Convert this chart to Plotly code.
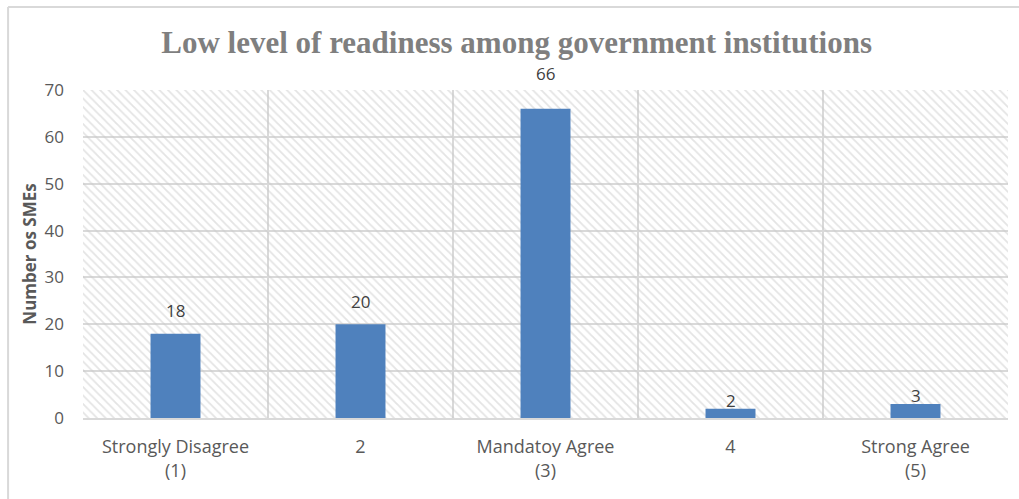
import plotly.graph_objects as go

# Survey responses
categories = ["Strongly Disagree<br>(1)", "2", "Mandatoy Agree<br>(3)", "4", "Strong Agree<br>(5)"]
counts = [18, 20, 66, 2, 3]
y_ticks = [0, 10, 20, 30, 40, 50, 60, 70]

# vertical offset (px) of each value label's centre above its bar top
label_offsets = [23, 23, 35, 8, 8]

TEXT = "#595959"
GRID = "#d9d9d9"
BAR = "#4f81bd"

fig = go.Figure()

# Hatched plot-area background on a hidden unit subplot
fig.add_trace(go.Scatter(
    x=[0, 1, 1, 0, 0], y=[0, 0, 1, 1, 0],
    xaxis="x", yaxis="y",
    mode="none", fill="toself",
    fillcolor="rgba(0,0,0,0)",
    fillpattern=dict(shape="\\", fgcolor="#c9c9c9", bgcolor="rgba(0,0,0,0)",
                     size=6, solidity=0.3),
    hoverinfo="skip", showlegend=False,
))

fig.add_trace(go.Bar(
    x=categories, y=counts,
    xaxis="x2", yaxis="y2",
    marker=dict(color=BAR, line=dict(width=0)),
    width=0.27, showlegend=False,
))

for i, (v, off) in enumerate(zip(counts, label_offsets)):
    fig.add_annotation(
        x=i, y=v, xref="x2", yref="y2", text=str(v),
        showarrow=False, yanchor="middle", yshift=off,
        font=dict(family="Open Sans", size=17, color="#404040"),
    )

fig.update_layout(
    width=1019, height=499,
    margin=dict(l=83, r=11, t=90, b=81),
    paper_bgcolor="white", plot_bgcolor="white",
    title=dict(
        text="<b>Low level of readiness among government institutions</b>",
        x=0.507, xanchor="center", y=0.915, yanchor="middle",
        font=dict(family="Liberation Serif", size=31, color="#7f7f7f"),
    ),
    xaxis=dict(range=[0, 1], visible=False, fixedrange=True),
    yaxis=dict(range=[0, 1], visible=False, fixedrange=True),
    xaxis2=dict(
        overlaying="x", type="category", range=[-0.5, 4.5],
        showgrid=True, gridcolor=GRID, gridwidth=1.5, tickson="boundaries",
        ticks="", ticklabelstandoff=12,
        showline=True, linecolor=GRID, linewidth=1.5,
        tickfont=dict(family="Open Sans", size=18, color=TEXT),
    ),
    yaxis2=dict(
        overlaying="y", range=[0, 70], tickvals=y_ticks,
        showgrid=True, gridcolor=GRID, gridwidth=1.5, zeroline=False,
        ticks="", ticklabelstandoff=18,
        tickfont=dict(family="Open Sans", size=17, color=TEXT),
        title=dict(text="<b>Number os SMEs</b>", standoff=3,
                   font=dict(family="Open Sans", size=17, color=TEXT)),
    ),
    shapes=[
        dict(type="line", xref="paper", yref="paper", x0=-0.081, x1=1.02,
             y0=1.253, y1=1.253, line=dict(color=GRID, width=2)),
        dict(type="line", xref="paper", yref="paper", x0=-0.081, x1=-0.081,
             y0=1.253, y1=-0.3, line=dict(color=GRID, width=2)),
    ],
)

fig.write_html("out.html")
